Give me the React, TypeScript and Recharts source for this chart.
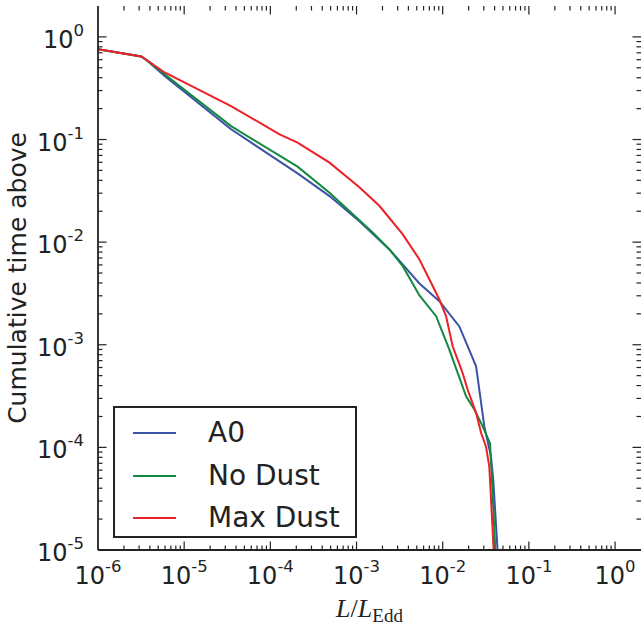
import React from 'react';
import { LineChart, Line, XAxis, YAxis, Legend, ReferenceLine } from 'recharts';

// ---- data ----
const xMajorExps = [-6, -5, -4, -3, -2, -1, 0];
const yMajorExps = [-5, -4, -3, -2, -1, 0];
const seriesNames = ['A0', 'No Dust', 'Max Dust'];
const seriesColors = ['#3a53a4', '#108a3e', '#ee2027'];

const a0X = [1e-6, 3.18e-6, 3.79e-6, 5.93e-6, 3.5e-5, 2.07e-4, 4.86e-4, 1.08e-3, 2.41e-3, 5.37e-3, 9.15e-3, 0.0156, 0.0244, 0.0279, 0.0304, 0.0363, 0.0386, 0.0433];
const a0Y = [0.759, 0.644, 0.58, 0.417, 0.126, 0.0468, 0.0281, 0.016, 8.49e-3, 3.95e-3, 2.66e-3, 1.51e-3, 6.17e-4, 2.71e-4, 1.6e-4, 8.17e-5, 4.84e-5, 1e-5];

const noDustX = [1e-6, 3.18e-6, 3.79e-6, 5.93e-6, 3.5e-5, 2.07e-4, 4.86e-4, 1.55e-3, 2.41e-3, 3.44e-3, 5.37e-3, 8.38e-3, 0.01194, 0.01492, 0.0155, 0.01866, 0.0233, 0.0291, 0.0354, 0.0373, 0.0408];
const noDustY = [0.759, 0.644, 0.582, 0.433, 0.135, 0.0544, 0.0303, 0.01235, 8.49e-3, 5.83e-3, 3.02e-3, 1.9e-3, 8.98e-4, 5.32e-4, 4.9e-4, 3.15e-4, 2.34e-4, 1.6e-4, 1.1e-4, 4.84e-5, 1e-5];

const maxDustX = [1e-6, 3.18e-6, 3.79e-6, 5.93e-6, 3.5e-5, 1.28e-4, 2.07e-4, 4.86e-4, 1.08e-3, 1.85e-3, 3.44e-3, 5.37e-3, 7.02e-3, 9.15e-3, 0.01093, 0.01305, 0.017, 0.01945, 0.0244, 0.0279, 0.0318, 0.0347, 0.0354, 0.039];
const maxDustY = [0.759, 0.644, 0.585, 0.45, 0.212, 0.1124, 0.0933, 0.0595, 0.0342, 0.0225, 0.0119, 6.78e-3, 4.33e-3, 2.76e-3, 1.9e-3, 9.66e-4, 5.32e-4, 3.66e-4, 2.17e-4, 1.38e-4, 1.02e-4, 6.53e-5, 4.84e-5, 1e-5];

const X_MIN = 1e-6;
const X_MAX = 2;
const Y_MIN = 1e-5;
const Y_MAX = 2;

// ---- helpers ----
const zip = (xs: number[], ys: number[]) => xs.map((x, i) => ({ x, y: ys[i] }));
const seriesData = [zip(a0X, a0Y), zip(noDustX, noDustY), zip(maxDustX, maxDustY)];

function logTicks(exps: number[], max: number) {
  const out: number[] = [];
  for (const e of exps) {
    for (let m = 1; m <= 9; m++) {
      const v = m * Math.pow(10, e);
      if (v <= max * 1.0000001) out.push(v);
    }
  }
  return out;
}
const xTicks = logTicks(xMajorExps, X_MAX);
const yTicks = logTicks(yMajorExps, Y_MAX);

const majorExp = (v: number) => {
  const l = Math.log10(v);
  return Math.abs(l - Math.round(l)) < 1e-6 ? Math.round(l) : null;
};

const FONT = 'DejaVu Sans';
const INK = '#222222';
const MAJ = 8.5;
const MIN = 4.5;

// plot size in px (chart 642x625, margins below) -> pixels per decade, for tick lengths
const PLOT_W = 642 - 98 - 1;
const PLOT_H = 625 - 6 - 75;
const X_PX_PER_DEC = PLOT_W / Math.log10(X_MAX / X_MIN);
const Y_PX_PER_DEC = PLOT_H / Math.log10(Y_MAX / Y_MIN);
const xf = (px: number) => Math.pow(10, px / X_PX_PER_DEC);
const yf = (px: number) => Math.pow(10, px / Y_PX_PER_DEC);

const Pow = ({ x, y, exp, anchor }: any) => (
  <text x={x} y={y} textAnchor={anchor} fontFamily={FONT} fontSize={24} fill={INK}>
    10
    <tspan dy={-12} fontSize={16.5}>{String(exp)}</tspan>
  </text>
);

const BottomLabel = (props: any) => {
  const e = majorExp(props.payload.value);
  if (e === null) return <g />;
  return <Pow x={Number(props.x)} y={Number(props.y) + 34} exp={e} anchor="middle" />;
};
const LeftLabel = (props: any) => {
  const e = majorExp(props.payload.value);
  if (e === null) return <g />;
  return <Pow x={Number(props.x) - 14} y={Number(props.y) + 11} exp={e} anchor="end" />;
};

const XLabel = (props: any) => {
  const vb = props.viewBox;
  const cx = vb.x + vb.width / 2;
  return (
    <text x={cx} y={vb.y + 67} textAnchor="middle" fontFamily="Liberation Serif" fontSize={26} fill={INK}>
      <tspan fontStyle="italic">L</tspan>
      <tspan>/</tspan>
      <tspan fontStyle="italic">L</tspan>
      <tspan dy={5} fontSize={19}>Edd</tspan>
    </text>
  );
};

const YLabel = (props: any) => {
  const vb = props.viewBox;
  const cy = vb.y + vb.height / 2;
  const x = 26;
  return (
    <text x={x} y={cy} transform={`rotate(-90 ${x} ${cy})`} textAnchor="middle" fontFamily={FONT} fontSize={25} fill={INK}>
      Cumulative time above
    </text>
  );
};

const LegendBox = (props: any) => {
  const payload = [...(props.payload || [])]
    .filter((p: any) => seriesNames.includes(p.value))
    .sort((a: any, b: any) => seriesNames.indexOf(a.value) - seriesNames.indexOf(b.value));
  return (
    <div
      style={{
        boxSizing: 'border-box',
        width: 244,
        height: 132,
        border: `2px solid ${INK}`,
        background: '#fff',
        paddingTop: 4,
      }}
    >
      {payload.map((p: any) => (
        <div key={p.value} style={{ display: 'flex', alignItems: 'center', height: 42.6 }}>
          <div style={{ width: 43, height: 0, borderTop: `2px solid ${p.color}`, marginLeft: 18, marginRight: 32 }} />
          <span style={{ fontFamily: FONT, fontSize: 28, color: INK, lineHeight: 1 }}>{p.value}</span>
        </div>
      ))}
    </div>
  );
};

const spine = { stroke: INK, strokeWidth: 1.8 };

// tick marks (inward, on all four spines) as reference segments through the chart's scales
const tickSegs: { key: string; seg: { x: number; y: number }[] }[] = [];
xTicks.forEach((v, i) => {
  const len = majorExp(v) !== null ? MAJ : MIN;
  if (v > X_MIN * 1.0001 && v < X_MAX * 0.9999) {
    tickSegs.push({ key: `xb${i}`, seg: [{ x: v, y: Y_MIN }, { x: v, y: Y_MIN * yf(len) }] });
    tickSegs.push({ key: `xt${i}`, seg: [{ x: v, y: Y_MAX }, { x: v, y: Y_MAX / yf(len) }] });
  }
});
yTicks.forEach((v, i) => {
  const len = majorExp(v) !== null ? MAJ : MIN;
  if (v > Y_MIN * 1.0001 && v < Y_MAX * 0.9999) {
    tickSegs.push({ key: `yl${i}`, seg: [{ x: X_MIN, y: v }, { x: X_MIN * xf(len), y: v }] });
    tickSegs.push({ key: `yr${i}`, seg: [{ x: X_MAX, y: v }, { x: X_MAX / xf(len), y: v }] });
  }
});

export default function App() {
  return (
    <div style={{ position: 'absolute', left: 0, top: 0, background: '#fff' }}>
      <LineChart width={642} height={625} margin={{ top: 6, right: 1, bottom: 0, left: 0 }}>
        <XAxis
          xAxisId="b"
          dataKey="x"
          type="number"
          scale="log"
          domain={[X_MIN, X_MAX]}
          allowDataOverflow
          ticks={xTicks}
          interval={0}
          tick={<BottomLabel />}
          tickLine={false}
          tickSize={0}
          tickMargin={0}
          height={75}
          axisLine={spine}
          label={<XLabel />}
        />
        <YAxis
          yAxisId="l"
          type="number"
          scale="log"
          domain={[Y_MIN, Y_MAX]}
          allowDataOverflow
          ticks={yTicks}
          interval={0}
          tick={<LeftLabel />}
          tickLine={false}
          tickSize={0}
          tickMargin={0}
          width={98}
          axisLine={spine}
          label={<YLabel />}
        />
        <XAxis
          xAxisId="t"
          orientation="top"
          dataKey="x"
          type="number"
          scale="log"
          domain={[X_MIN, X_MAX]}
          allowDataOverflow
          tick={false}
          tickLine={false}
          height={0}
          axisLine={spine}
        />
        <YAxis
          yAxisId="r"
          orientation="right"
          type="number"
          scale="log"
          domain={[Y_MIN, Y_MAX]}
          allowDataOverflow
          tick={false}
          tickLine={false}
          width={0}
          axisLine={spine}
        />
        {tickSegs.map((t) => (
          <ReferenceLine
            key={t.key}
            xAxisId="b"
            yAxisId="l"
            segment={t.seg}
            stroke={INK}
            strokeWidth={1.2}
            ifOverflow="visible"
          />
        ))}
        {seriesData.map((d, i) => (
          <Line
            key={seriesNames[i]}
            xAxisId="b"
            yAxisId="l"
            data={d}
            dataKey="y"
            name={seriesNames[i]}
            type="linear"
            stroke={seriesColors[i]}
            strokeWidth={2}
            dot={false}
            activeDot={false}
            isAnimationActive={false}
          />
        ))}
        <Legend
          layout="horizontal"
          verticalAlign="middle"
          align="center"
          wrapperStyle={{ left: 113, top: 406, width: 244, height: 132 }}
          content={<LegendBox />}
        />
      </LineChart>
    </div>
  );
}
